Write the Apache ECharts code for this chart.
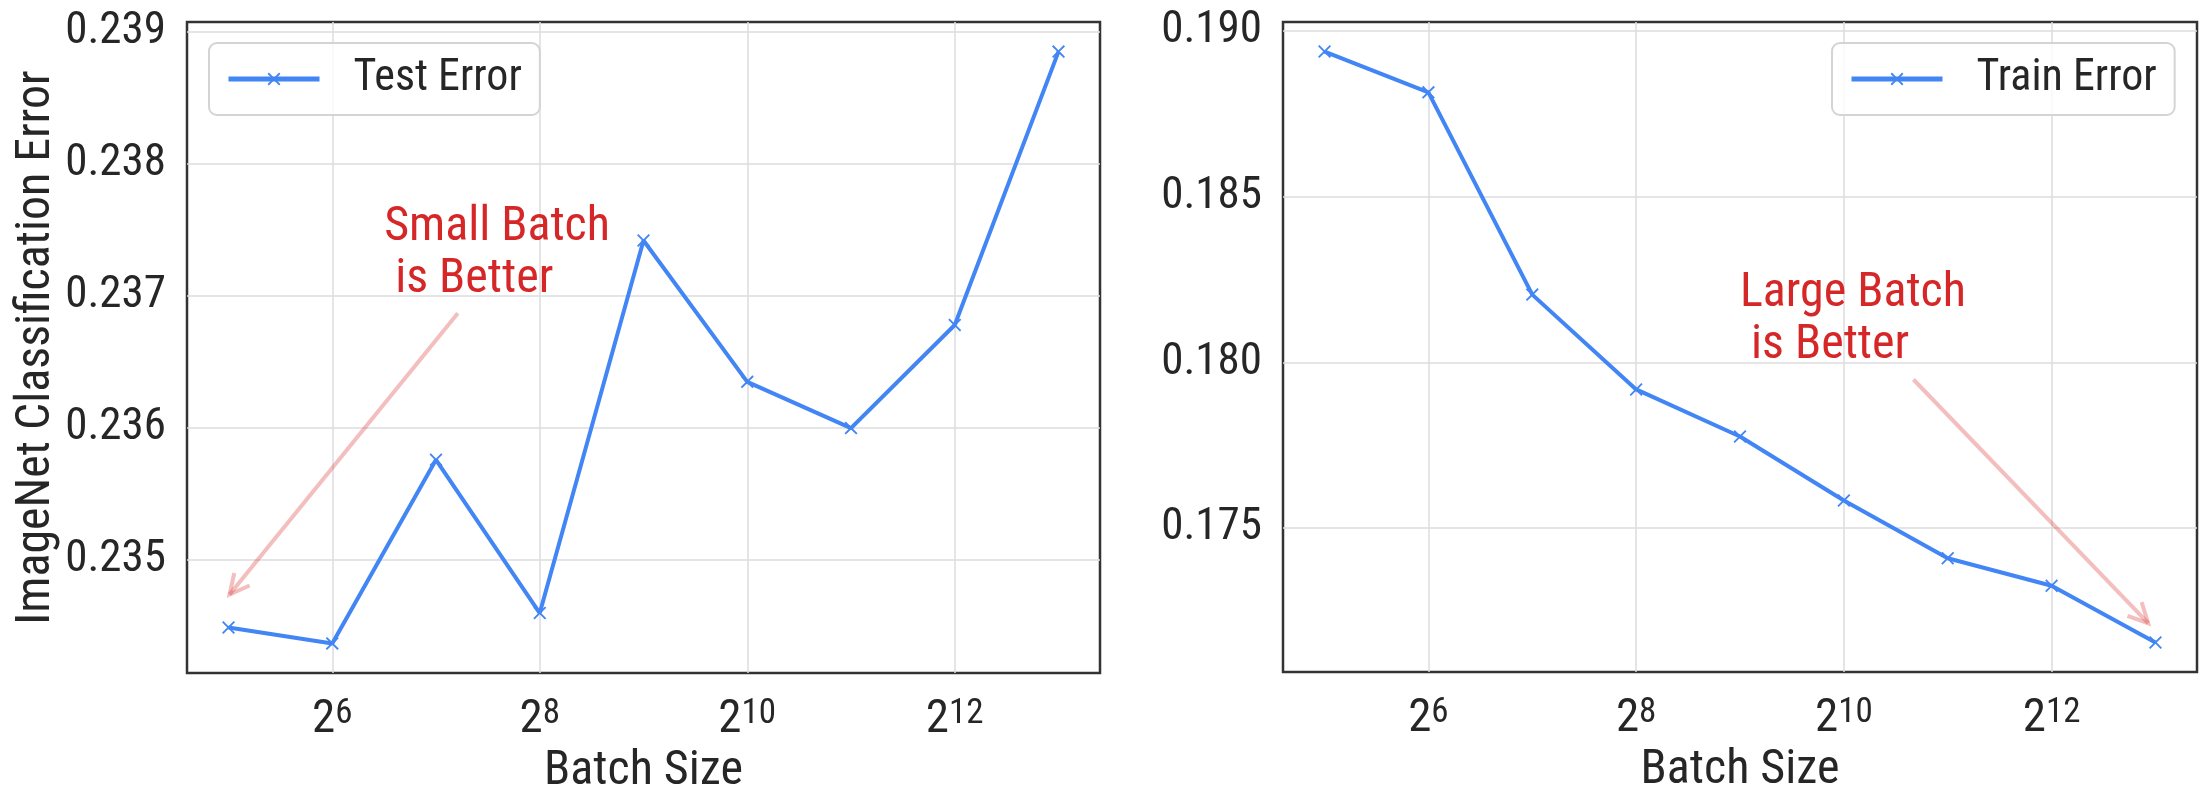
<!DOCTYPE html>
<html><head><meta charset="utf-8">
<script src="https://cdn.jsdelivr.net/npm/echarts@6/dist/echarts.min.js"></script>
<style>html,body{margin:0;padding:0;background:#fff}#c{width:2210px;height:804px}</style>
</head><body><div id="c"></div>
<script>
// ---- data ----
const batchSizes = [32, 64, 128, 256, 512, 1024, 2048, 4096, 8192];
const testError  = [0.23449, 0.23437, 0.23576, 0.23460, 0.23742, 0.23635, 0.23600, 0.23678, 0.23885];
const trainError = [0.18937, 0.18814, 0.18204, 0.17918, 0.17776, 0.17583, 0.17409, 0.17326, 0.17155];
const xTickExponents = [6, 8, 10, 12];
const testYTicks  = [0.235, 0.236, 0.237, 0.238, 0.239];
const trainYTicks = [0.175, 0.180, 0.185, 0.190];
const seriesNames = ['Test Error', 'Train Error'];
const yAxisTitle = 'ImageNet Classification Error';
const xAxisTitle = 'Batch Size';
// annotation anchors in data coordinates (x = log2 batch size)
const annotations = [
  {grid: 0, lines: ['Small Batch', ' is Better'], textAt: [6.5, 0.237], from: [7.21, 0.23687], to: [5.01, 0.23474]},
  {grid: 1, lines: ['Large Batch', ' is Better'], textAt: [9, 0.180], from: [10.67, 0.17948], to: [12.93, 0.17213]}
];

// ---- style ----
const FONT = "'Roboto Condensed','Liberation Sans Narrow','DejaVu Sans Condensed',Roboto,sans-serif";
const TXT = '#262626';
const BLUE = '#4285f4';
const GRIDC = '#dcdce0';
const FS = 45;
const XSYM = 'path://M0,1L1,0L5,4L9,0L10,1L6,5L10,9L9,10L5,6L1,10L0,9L4,5Z';

function padRange(v) {
  const mn = Math.min(...v), mx = Math.max(...v), r = mx - mn;
  return [mn - 0.05 * r, mx + 0.05 * r];
}
const exps = batchSizes.map(b => Math.log2(b));
const xr = padRange(exps);
const yTest = padRange(testError);
const yTrain = padRange(trainError);

const grids = [
  {left: 187, top: 22, width: 913, height: 651},
  {left: 1283, top: 22, width: 914, height: 650}
].map(g => Object.assign(g, {show: true, borderColor: '#333', borderWidth: 2.5, backgroundColor: 'transparent'}));

function xAxis(i) {
  return {
    gridIndex: i, type: 'value', min: xr[0], max: xr[1],
    axisLine: {show: false},
    axisTick: {show: false, customValues: xTickExponents},
    splitLine: {show: true, lineStyle: {color: GRIDC, width: 1.5}},
    axisLabel: {
      customValues: xTickExponents, margin: 24,
      formatter: v => `{b|2}{s|${v}}`,
      rich: {
        b: {fontSize: 47, fontFamily: FONT, color: TXT, lineHeight: 46},
        s: {fontSize: 35, fontFamily: FONT, color: TXT, lineHeight: 32, verticalAlign: 'top'}
      }
    },
    name: xAxisTitle, nameLocation: 'middle', nameGap: 72,
    nameTextStyle: {fontSize: 48, fontFamily: FONT, color: TXT}
  };
}
function yAxis(i, rng, ticks, title) {
  return {
    gridIndex: i, type: 'value', min: rng[0], max: rng[1],
    axisLine: {show: false},
    axisTick: {show: false, customValues: ticks},
    splitLine: {show: true, lineStyle: {color: GRIDC, width: 1.5}},
    axisLabel: {customValues: ticks, margin: 21, formatter: v => v.toFixed(3),
      fontSize: FS, fontFamily: FONT, color: TXT},
    name: title, nameLocation: 'middle', nameRotate: 90, nameGap: 118,
    nameTextStyle: {fontSize: 48, fontFamily: FONT, color: TXT}
  };
}
function series(i, vals) {
  return {
    type: 'line', name: seriesNames[i], xAxisIndex: i, yAxisIndex: i,
    data: exps.map((e, k) => [e, vals[k]]),
    symbol: XSYM, symbolSize: 13, showSymbol: true,
    lineStyle: {color: BLUE, width: 4},
    itemStyle: {color: BLUE},
    animation: false, z: 3
  };
}
function legend(name, left) {
  return {
    data: [name], left: left, top: 43, itemWidth: 91, itemHeight: 16,
    padding: [14, 18, 14, 17], borderColor: '#d4d4d4', borderWidth: 2, borderRadius: 8,
    backgroundColor: 'rgba(255,255,255,0.8)', selectedMode: false,
    lineStyle: {width: 5, color: BLUE},
    textStyle: {fontSize: 44, fontFamily: FONT, color: TXT, padding: [0, 0, 0, 29]}
  };
}

const chart = echarts.init(document.getElementById('c'), null, {renderer: 'canvas'});
chart.setOption({
  backgroundColor: '#fff',
  animation: false,
  grid: grids,
  xAxis: [xAxis(0), xAxis(1)],
  yAxis: [yAxis(0, yTest, testYTicks, yAxisTitle), yAxis(1, yTrain, trainYTicks, '')],
  legend: [legend(seriesNames[0], 209), legend(seriesNames[1], 1832)],
  series: [series(0, testError), series(1, trainError)]
});

// annotations positioned through the axes' scales
const ARROW = 'rgba(214,39,40,0.3)';
const elems = [];
annotations.forEach(a => {
  const t = chart.convertToPixel({gridIndex: a.grid}, a.textAt);
  const p0 = chart.convertToPixel({gridIndex: a.grid}, a.from);
  const p1 = chart.convertToPixel({gridIndex: a.grid}, a.to);
  a.lines.forEach((s, k) => {
    elems.push({type: 'text', x: t[0], y: t[1] - 16 - (a.lines.length - 1 - k) * 52, silent: true,
      style: {text: s, fill: '#d62728', fontSize: 48, fontFamily: FONT, verticalAlign: 'middle', align: 'left'}});
  });
  const dx = p1[0] - p0[0], dy = p1[1] - p0[1], L = Math.hypot(dx, dy);
  const ux = dx / L, uy = dy / L, hl = 22, ang = 26.6 * Math.PI / 180;
  const rot = (x, y, a) => [x * Math.cos(a) - y * Math.sin(a), x * Math.sin(a) + y * Math.cos(a)];
  const b1 = rot(-ux, -uy, ang), b2 = rot(-ux, -uy, -ang);
  elems.push({type: 'line', silent: true, shape: {x1: p0[0], y1: p0[1], x2: p1[0], y2: p1[1]},
    style: {stroke: ARROW, lineWidth: 4}});
  elems.push({type: 'polyline', silent: true,
    shape: {points: [[p1[0] + b1[0] * hl, p1[1] + b1[1] * hl], [p1[0], p1[1]], [p1[0] + b2[0] * hl, p1[1] + b2[1] * hl]]},
    style: {stroke: ARROW, lineWidth: 4, fill: null}});
});
chart.setOption({graphic: elems});
</script>
</body></html>
